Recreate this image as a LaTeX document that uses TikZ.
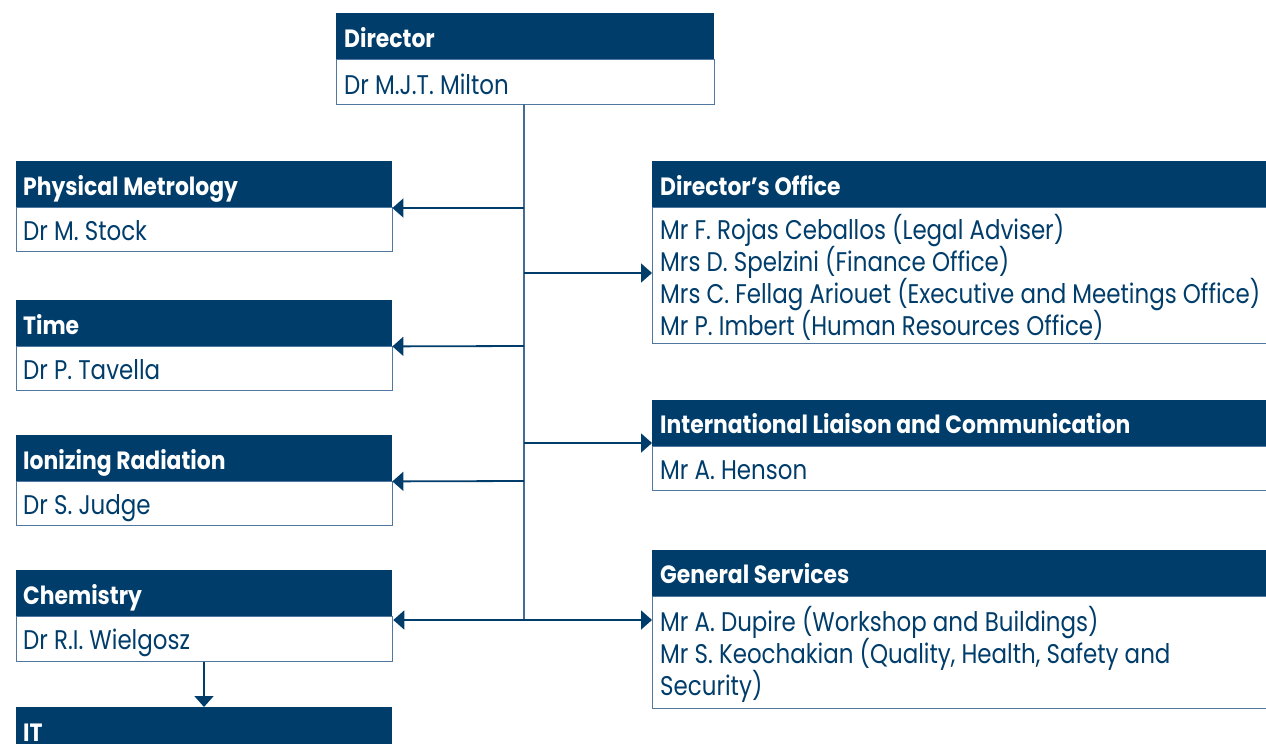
\documentclass[tikz,border=0pt]{standalone}
\usepackage{fontspec}
\setmainfont{Poppins}[FakeStretch=0.85]
\newfontfamily\bodyfont{Poppins}[FakeStretch=0.85]
\newfontfamily\headfont{Poppins}[FakeStretch=0.875]
\usetikzlibrary{arrows.meta}
\definecolor{navy}{HTML}{003D6B}
\definecolor{edgec}{HTML}{4F77A0}
\definecolor{trunkc}{HTML}{456C95}
\tikzset{
 hdr/.style={draw=none, fill=navy, rectangle, anchor=north west, inner sep=0pt, minimum height=46pt},
 bod/.style={draw=edgec, line width=1.3pt, fill=white, rectangle, anchor=north west, inner sep=0pt},
 htxt/.style={anchor=base west, inner sep=0pt, text=white, font=\headfont\fontsize{25}{28}\selectfont\bfseries},
 btxt/.style={anchor=base west, inner sep=0pt, text=navy, font=\bodyfont\fontsize{27}{32}\selectfont},
 arr/.style={draw=navy, line width=1.8pt, -{Triangle[length=11pt,width=19pt]}},
 trunkline/.style={draw=trunkc, line width=1.5pt},
}
\begin{document}
\begin{tikzpicture}[x=1pt,y=-1pt]
\clip (0,0) rectangle (1266,744);
\fill[white] (0,0) rectangle (1266,744);
% Director
\node[bod, minimum width=378pt, minimum height=45pt] (dirb) at (336,59) {};
\node[hdr, minimum width=378pt] (dirh) at (336,13) {};
\node[htxt] (dirht) at (344,47) {Director};
\node[btxt] (dirbt) at (344,94) {Dr M.J.T. Milton};
% Left column
\node[bod, minimum width=376pt, minimum height=44pt] (pmb) at (16,207) {};
\node[hdr, minimum width=376pt] (pmh) at (16,161) {};
\node[htxt] (pmht) at (23,195) {Physical Metrology};
\node[btxt] (pmbt) at (23,240) {Dr M. Stock};
\node[bod, minimum width=376pt, minimum height=44pt] (tmb) at (16,346) {};
\node[hdr, minimum width=376pt] (tmh) at (16,300) {};
\node[htxt] (tmht) at (23,334) {Time};
\node[btxt] (tmbt) at (23,379) {Dr P. Tavella};
\node[bod, minimum width=376pt, minimum height=44pt] (irb) at (16,481) {};
\node[hdr, minimum width=376pt] (irh) at (16,435) {};
\node[htxt] (irht) at (23,469) {Ionizing Radiation};
\node[btxt] (irbt) at (23,514) {Dr S. Judge};
\node[bod, minimum width=376pt, minimum height=45pt] (chb) at (16,616) {};
\node[hdr, minimum width=376pt] (chh) at (16,570) {};
\node[htxt] (chht) at (23,604) {Chemistry};
\node[btxt] (chbt) at (23,649) {Dr R.I. Wielgosz};
\node[hdr, minimum width=376pt] (ith) at (16,707) {};
\node[htxt] (itht) at (23,741) {IT};
% Right column
\node[bod, minimum width=640pt, minimum height=136pt] (dob) at (652,207) {};
\node[hdr, minimum width=640pt] (doh) at (652,161) {};
\node[htxt] (doht) at (660,195) {Director’s Office};
\node[btxt] (dob1) at (660,239) {Mr F. Rojas Ceballos (Legal Adviser)};
\node[btxt] (dob2) at (660,271) {Mrs D. Spelzini (Finance Office)};
\node[btxt] (dob3) at (660,303) {Mrs C. Fellag Ariouet (Executive and Meetings Office)};
\node[btxt] (dob4) at (660,335) {Mr P. Imbert (Human Resources Office)};
\node[bod, minimum width=640pt, minimum height=44pt] (ilb) at (652,446) {};
\node[hdr, minimum width=640pt] (ilh) at (652,400) {};
\node[htxt] (ilht) at (660,433) {International Liaison and Communication};
\node[btxt] (ilbt) at (660,479) {Mr A. Henson};
\node[bod, minimum width=640pt, minimum height=112pt] (gsb) at (652,596) {};
\node[hdr, minimum width=640pt] (gsh) at (652,550) {};
\node[htxt] (gsht) at (660,583) {General Services};
\node[btxt] (gsb1) at (660,631) {Mr A. Dupire (Workshop and Buildings)};
\node[btxt] (gsb2) at (660,663) {Mr S. Keochakian (Quality, Health, Safety and};
\node[btxt] (gsb3) at (660,695) {Security)};
% Connectors
\coordinate (ttop) at (524,104);
\coordinate (tbot) at (524,620);
\draw[trunkline] (ttop) -- (tbot);
\draw[arr] (ttop |- 0,208) -- (pmh.south east |- 0,208);
\draw[arr] (ttop |- 0,346) -- (tmh.south east);
\draw[arr] (ttop |- 0,481) -- (irh.south east);
\draw[arr] (tbot) -- (chb.north east |- tbot);
\draw[arr] (ttop |- 0,273) -- (dob.north west |- 0,273);
\draw[arr] (ttop |- 0,443) -- (ilh.south west |- 0,443);
\draw[arr] (tbot) -- (gsb.north west |- tbot);
\draw[arr] ([xshift=188pt]chb.south west) -- ([xshift=188pt]ith.north west);
\end{tikzpicture}
\end{document}
